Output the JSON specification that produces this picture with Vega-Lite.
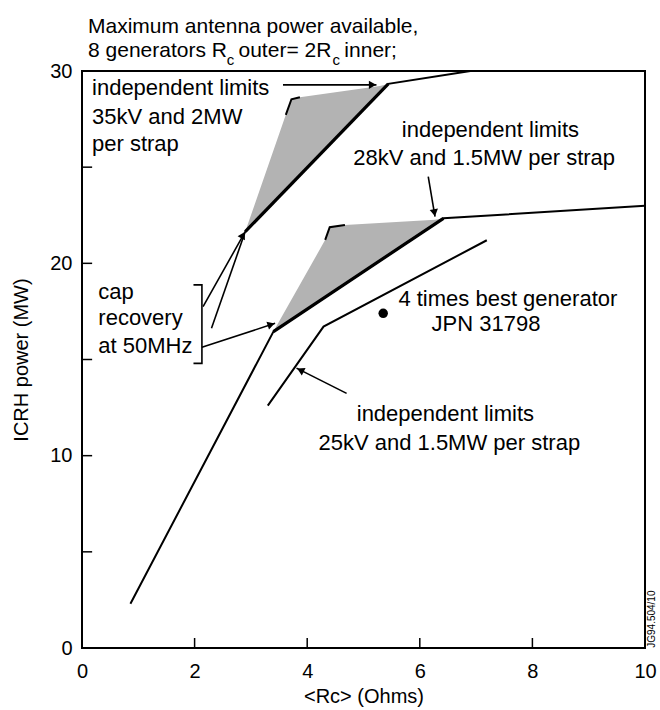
{
  "$schema": "https://vega.github.io/schema/vega-lite/v6.json",
  "width": 563,
  "height": 577,
  "autosize": {"type": "none"},
  "padding": {"left": 82, "top": 71, "right": 15, "bottom": 62},
  "background": "white",
  "config": {
    "font": "Liberation Sans",
    "view": {"stroke": "black", "strokeWidth": 2},
    "axis": {"labelColor": "black", "titleColor": "black", "labelFont": "Liberation Sans", "titleFont": "Liberation Sans"}
  },
  "datasets": {
    "shade": [
      {"g": "upper", "x": 2.90, "y": 21.65, "y2": 21.65},
      {"g": "upper", "x": 3.62, "y": 27.72, "y2": 23.83},
      {"g": "upper", "x": 3.72, "y": 28.53, "y2": 24.13},
      {"g": "upper", "x": 3.87, "y": 28.64, "y2": 24.58},
      {"g": "upper", "x": 5.29, "y": 29.22, "y2": 28.88},
      {"g": "upper", "x": 5.44, "y": 29.33, "y2": 29.33},
      {"g": "middle", "x": 3.40, "y": 16.45, "y2": 16.45},
      {"g": "middle", "x": 4.32, "y": 21.22, "y2": 18.24},
      {"g": "middle", "x": 4.40, "y": 21.88, "y2": 18.40},
      {"g": "middle", "x": 4.67, "y": 21.99, "y2": 18.93},
      {"g": "middle", "x": 6.27, "y": 22.26, "y2": 22.05},
      {"g": "middle", "x": 6.42, "y": 22.34, "y2": 22.34}
    ],
    "curves": [
      {"c": "upper", "o": 1, "x": 2.90, "y": 21.65},
      {"c": "upper", "o": 2, "x": 5.44, "y": 29.33},
      {"c": "upper", "o": 3, "x": 6.90, "y": 30.0},
      {"c": "middle", "o": 1, "x": 0.86, "y": 2.3},
      {"c": "middle", "o": 2, "x": 3.40, "y": 16.45},
      {"c": "middle", "o": 3, "x": 6.42, "y": 22.34},
      {"c": "middle", "o": 4, "x": 10.0, "y": 23.0},
      {"c": "lower", "o": 1, "x": 3.30, "y": 12.6},
      {"c": "lower", "o": 2, "x": 4.29, "y": 16.71},
      {"c": "lower", "o": 3, "x": 7.19, "y": 21.2},
      {"c": "hook1", "o": 1, "x": 3.62, "y": 27.72},
      {"c": "hook1", "o": 2, "x": 3.72, "y": 28.53},
      {"c": "hook1", "o": 3, "x": 3.87, "y": 28.64},
      {"c": "hook2", "o": 1, "x": 4.32, "y": 21.22},
      {"c": "hook2", "o": 2, "x": 4.40, "y": 21.88},
      {"c": "hook2", "o": 3, "x": 4.67, "y": 21.99}
    ],
    "thick": [
      {"c": "s1", "o": 1, "x": 2.90, "y": 21.65},
      {"c": "s1", "o": 2, "x": 5.44, "y": 29.33},
      {"c": "s2", "o": 1, "x": 3.40, "y": 16.45},
      {"c": "s2", "o": 2, "x": 6.42, "y": 22.34}
    ],
    "thin": [
      {"c": "a1", "o": 1, "x": 3.57, "y": 29.28},
      {"c": "a1", "o": 2, "x": 5.23, "y": 29.28},
      {"c": "a2", "o": 1, "x": 6.15, "y": 24.51},
      {"c": "a2", "o": 2, "x": 6.27, "y": 22.43},
      {"c": "a3", "o": 1, "x": 2.13, "y": 15.64},
      {"c": "a3", "o": 2, "x": 3.43, "y": 16.88},
      {"c": "a4", "o": 1, "x": 2.15, "y": 17.75},
      {"c": "a4", "o": 2, "x": 2.90, "y": 21.65},
      {"c": "a5", "o": 1, "x": 2.30, "y": 16.62},
      {"c": "a5", "o": 2, "x": 2.90, "y": 21.65},
      {"c": "a6", "o": 1, "x": 4.70, "y": 13.24},
      {"c": "a6", "o": 2, "x": 3.81, "y": 14.55},
      {"c": "br", "o": 1, "x": 1.98, "y": 18.88},
      {"c": "br", "o": 2, "x": 2.13, "y": 18.88},
      {"c": "br", "o": 3, "x": 2.13, "y": 14.80},
      {"c": "br", "o": 4, "x": 1.98, "y": 14.80}
    ],
    "titles": [
      {"x": 0.107, "y": 31.97, "text": "Maximum antenna power available,"},
      {"x": 0.107, "y": 30.75, "text": "8 generators R"},
      {"x": 2.78, "y": 30.75, "text": "outer= 2R"},
      {"x": 4.66, "y": 30.75, "text": "inner;"}
    ],
    "labels": [
      {"x": 0.178, "y": 28.73, "text": "independent limits"},
      {"x": 0.178, "y": 27.27, "text": "35kV and 2MW"},
      {"x": 0.178, "y": 25.82, "text": "per strap"},
      {"x": 5.68, "y": 26.59, "text": "independent limits"},
      {"x": 4.82, "y": 25.12, "text": "28kV and 1.5MW per strap"},
      {"x": 0.29, "y": 18.13, "text": "cap"},
      {"x": 0.29, "y": 16.80, "text": "recovery"},
      {"x": 0.29, "y": 15.32, "text": "at 50MHz"},
      {"x": 5.62, "y": 17.78, "text": "4 times best generator"},
      {"x": 6.21, "y": 16.50, "text": "JPN 31798"},
      {"x": 4.88, "y": 11.82, "text": "independent limits"},
      {"x": 4.20, "y": 10.30, "text": "25kV and 1.5MW per strap"}
    ],
    "subs": [
      {"x": 2.57, "y": 30.30, "text": "c"},
      {"x": 4.45, "y": 30.30, "text": "c"}
    ],
    "yticks": [
      {"x": 0, "x2": 0.18, "y": 0, "y2": 0},
      {"x": 0, "x2": 0.18, "y": 5, "y2": 5},
      {"x": 0, "x2": 0.18, "y": 10, "y2": 10},
      {"x": 0, "x2": 0.18, "y": 15, "y2": 15},
      {"x": 0, "x2": 0.18, "y": 20, "y2": 20},
      {"x": 0, "x2": 0.18, "y": 25, "y2": 25},
      {"x": 0, "x2": 0.18, "y": 30, "y2": 30}
    ],
    "xticks": [
      {"x": 2, "x2": 2, "y": 0, "y2": 0.52},
      {"x": 4, "x2": 4, "y": 0, "y2": 0.52},
      {"x": 6, "x2": 6, "y": 0, "y2": 0.52},
      {"x": 8, "x2": 8, "y": 0, "y2": 0.52}
    ]
  },
  "encoding": {
    "x": {
      "field": "x", "type": "quantitative",
      "scale": {"domain": [0, 10], "nice": false, "zero": false},
      "axis": {
        "values": [0, 2, 4, 6, 8, 10], "ticks": false, "domain": false, "grid": false,
        "labelFontSize": 20, "labelPadding": 13, "labelFlush": false,
        "title": "<Rc> (Ohms)", "titleFontSize": 20, "titleFontWeight": "normal", "titlePadding": 5
      }
    },
    "y": {
      "field": "y", "type": "quantitative",
      "scale": {"domain": [0, 30], "nice": false, "zero": false},
      "axis": {
        "values": [0, 10, 20, 30], "ticks": false, "domain": false, "grid": false,
        "labelFontSize": 20, "labelPadding": 10, "labelFlush": false,
        "title": "ICRH power (MW)", "titleFontSize": 20, "titleFontWeight": "normal", "titlePadding": 18
      }
    }
  },
  "layer": [
    {
      "data": {"name": "shade"},
      "mark": {"type": "area", "color": "#b3b3b3", "opacity": 1},
      "encoding": {"y2": {"field": "y2"}, "detail": {"field": "g"}}
    },
    {
      "data": {"name": "curves"},
      "mark": {"type": "line", "color": "black", "strokeWidth": 2},
      "encoding": {"detail": {"field": "c"}, "order": {"field": "o"}}
    },
    {
      "data": {"name": "thick"},
      "mark": {"type": "line", "color": "black", "strokeWidth": 3.2},
      "encoding": {"detail": {"field": "c"}, "order": {"field": "o"}}
    },
    {
      "data": {"name": "thin"},
      "mark": {"type": "line", "color": "black", "strokeWidth": 1.6},
      "encoding": {"detail": {"field": "c"}, "order": {"field": "o"}}
    },
    {
      "data": {"values": [{"x": 5.16, "y": 29.28}]},
      "mark": {"type": "point", "shape": "triangle-right", "filled": true, "color": "black", "opacity": 1, "size": 70, "angle": 0}
    },
    {
      "data": {"values": [{"x": 6.26, "y": 22.63}]},
      "mark": {"type": "point", "shape": "triangle-right", "filled": true, "color": "black", "opacity": 1, "size": 70, "angle": 80}
    },
    {
      "data": {"values": [{"x": 3.36, "y": 16.82}]},
      "mark": {"type": "point", "shape": "triangle-right", "filled": true, "color": "black", "opacity": 1, "size": 70, "angle": -18}
    },
    {
      "data": {"values": [{"x": 2.86, "y": 21.47}]},
      "mark": {"type": "point", "shape": "triangle-right", "filled": true, "color": "black", "opacity": 1, "size": 70, "angle": -61}
    },
    {
      "data": {"values": [{"x": 3.88, "y": 14.45}]},
      "mark": {"type": "point", "shape": "triangle-right", "filled": true, "color": "black", "opacity": 1, "size": 70, "angle": 206.6}
    },
    {
      "data": {"values": [{"x": 5.35, "y": 17.4}]},
      "mark": {"type": "point", "shape": "circle", "filled": true, "color": "black", "opacity": 1, "size": 90}
    },
    {
      "data": {"name": "yticks"},
      "mark": {"type": "rule", "color": "black", "strokeWidth": 1.5},
      "encoding": {"x2": {"field": "x2"}, "y2": {"field": "y2"}}
    },
    {
      "data": {"name": "xticks"},
      "mark": {"type": "rule", "color": "black", "strokeWidth": 1.5},
      "encoding": {"x2": {"field": "x2"}, "y2": {"field": "y2"}}
    },
    {
      "data": {"name": "titles"},
      "mark": {"type": "text", "align": "left", "baseline": "alphabetic", "fontSize": 21, "font": "Liberation Sans", "color": "black"},
      "encoding": {"text": {"field": "text"}}
    },
    {
      "data": {"name": "labels"},
      "mark": {"type": "text", "align": "left", "baseline": "alphabetic", "fontSize": 22, "font": "Liberation Sans", "color": "black"},
      "encoding": {"text": {"field": "text"}}
    },
    {
      "data": {"name": "subs"},
      "mark": {"type": "text", "align": "left", "baseline": "alphabetic", "fontSize": 15, "font": "Liberation Sans", "color": "black"},
      "encoding": {"text": {"field": "text"}}
    },
    {
      "data": {"values": [{"x": 10.13, "y": 1.5, "text": "JG94.504/10"}]},
      "mark": {"type": "text", "align": "center", "baseline": "middle", "fontSize": 10, "angle": 270, "font": "Liberation Sans", "color": "black"},
      "encoding": {"text": {"field": "text"}}
    }
  ]
}
